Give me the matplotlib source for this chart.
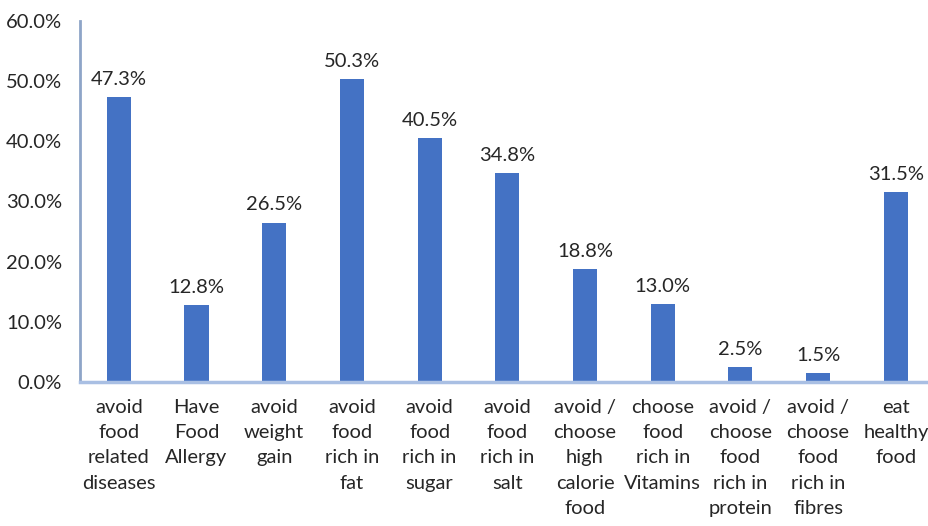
import numpy as np
import matplotlib.pyplot as plt
from matplotlib.ticker import FuncFormatter

plt.rcParams['font.family'] = ['Lato', 'DejaVu Sans']

categories = ["avoid\nfood\nrelated\ndiseases", "Have\nFood\nAllergy", "avoid\nweight\ngain",
              "avoid\nfood\nrich in\nfat", "avoid\nfood\nrich in\nsugar", "avoid\nfood\nrich in\nsalt",
              "avoid /\nchoose\nhigh\ncalorie\nfood", "choose\nfood\nrich in\nVitamins",
              "avoid /\nchoose\nfood\nrich in\nprotein", "avoid /\nchoose\nfood\nrich in\nfibres",
              "eat\nhealthy\nfood"]
values = [47.3, 12.8, 26.5, 50.3, 40.5, 34.8, 18.8, 13.0, 2.5, 1.5, 31.5]
yticks = [0, 10, 20, 30, 40, 50, 60]

fig = plt.figure(figsize=(9.29, 5.26), dpi=100)
ax = fig.add_axes([0.0861, 0.274, 0.92, 0.686])

x = np.arange(len(values))
ax.bar(x, values, width=0.31, color='#4472C4')
for i in range(len(values)):
    ax.text(x[i], values[i] + 1.5, f"{values[i]:.1f}%", ha='center', va='bottom', fontsize=14.5, color='#262626')

ax.set_xlim(-0.5, len(values) - 0.5)
ax.set_ylim(0, 60)
ax.set_yticks(yticks)
ax.yaxis.set_major_formatter(FuncFormatter(lambda v, p: f"{v:.1f}%"))
ax.set_xticks(x)
ax.set_xticklabels(categories, fontsize=14.5, color='#262626', linespacing=1.6, va='top')
ax.tick_params(axis='y', labelsize=14.5, colors='#262626', length=0, pad=13)
ax.tick_params(axis='x', length=0, pad=12)

ax.spines['top'].set_visible(False)
ax.spines['right'].set_visible(False)
ax.spines['left'].set_color('#8EA5C8')
ax.spines['left'].set_linewidth(2)
ax.spines['bottom'].set_color('#A9BFE3')
ax.spines['bottom'].set_linewidth(2.5)

fig.savefig('out.png', dpi=100)
